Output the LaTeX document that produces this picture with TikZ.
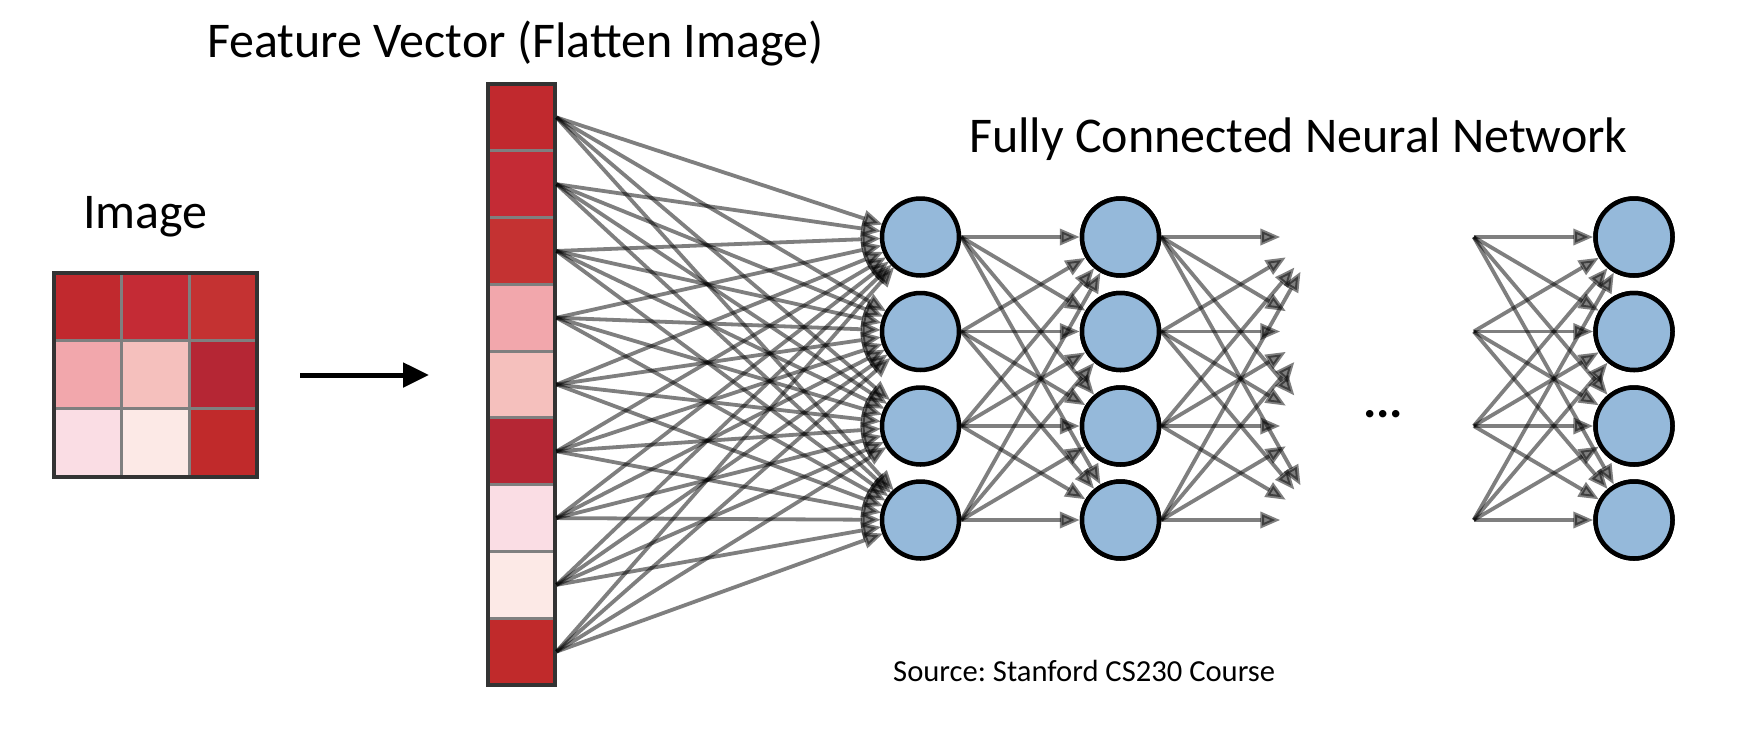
\documentclass[tikz,border=0pt]{standalone}
\usepackage{fontspec}
\setmainfont{Carlito}
\usetikzlibrary{arrows.meta}
\definecolor{r1}{HTML}{C1292E}
\definecolor{r2}{HTML}{C42B35}
\definecolor{r3}{HTML}{C43232}
\definecolor{r4}{HTML}{F2A7AC}
\definecolor{r5}{HTML}{F5C0BD}
\definecolor{r6}{HTML}{B52634}
\definecolor{r7}{HTML}{FADDE4}
\definecolor{r8}{HTML}{FCE9E6}
\definecolor{r9}{HTML}{C02A2B}
\definecolor{neuron}{HTML}{95B9DA}
\definecolor{cellline}{HTML}{7F7F7F}
\definecolor{frameline}{HTML}{333333}
\frenchspacing
\begin{document}
\begin{tikzpicture}[x=1pt,y=-1pt,
  imgcell/.style={rectangle, inner sep=0pt, minimum width=67.67pt, minimum height=67.67pt, draw=cellline, line width=3pt},
  veccell/.style={rectangle, inner sep=0pt, minimum width=67pt, minimum height=66.78pt, draw=cellline, line width=3pt},
  frame/.style={rectangle, inner sep=0pt, draw=frameline, line width=4pt},
  neur/.style={circle, inner sep=0pt, minimum size=77pt, draw=black, line width=4.5pt, fill=neuron},
  ghost/.style={circle, inner sep=0pt, minimum size=79pt, draw=none},
  conn/.style={-{Triangle[length=20pt,width=16pt]}, draw=black, opacity=0.5, line width=3.8pt},
  bigtext/.style={anchor=base west, inner sep=0pt, font=\fontsize{50}{60}\selectfont},
  smalltext/.style={anchor=base west, inner sep=0pt, font=\fontsize{30.6}{37}\selectfont},
  flatarrow/.style={-{Triangle[length=26pt,width=24pt]}, draw=black, line width=5pt}
]
\useasboundingbox[fill=white] (0,0) rectangle (1738,732);

% titles
\node[bigtext] (tfeat) at (207,57) {Feature Vector (Flatten Image)};
\node[bigtext] (timg) at (83,228) {Image};
\node[bigtext] (tnet) at (969,152) {Fully Connected Neural Network};
\node[smalltext] (tsrc) at (893,681) {Source: Stanford CS230 Course};

% image grid
\foreach \i in {0,1,2} {
  \foreach \j in {0,1,2} {
    \pgfmathtruncatemacro\k{3*\i+\j+1}
    \node[imgcell, fill=r\k] (g\k) at ({87.83+67.67*\j},{306.83+67.67*\i}) {};
  }
}
\node[frame, minimum width=203pt, minimum height=204pt] (img) at (155.5,375) {};

% flatten arrow
\coordinate (fa) at (300,375);
\coordinate (fb) at (429,375);
\draw[flatarrow] (fa) -- (fb);

% feature vector
\foreach \k in {1,...,9} {
  \node[veccell, fill=r\k] (c\k) at (521.5,{117.39+66.78*(\k-1)}) {};
}
\node[frame, minimum width=67pt, minimum height=601pt] (vec) at (521.5,384.5) {};

% virtual neuron positions (hidden layers not drawn)
\foreach \n/\y in {1/237,2/331.5,3/426,4/520} {
  \node[ghost] (v\n) at (1320,\y) {};
  \node[ghost] (w\n) at (1434,\y) {};
  \node[ghost] (a\n) at (920.5,\y) {};
}

% connections vector -> layer 1
\foreach \k in {1,...,9} {
  \foreach \n in {1,...,4} {
    \draw[conn] (c\k.east) -- (a\n);
  }
}
\foreach \n/\y in {1/237,2/331.5,3/426,4/520} {
  \node[neur] (h\n) at (920.5,\y) {};
  \node[neur] (k\n) at (1120.5,\y) {};
  \node[neur] (o\n) at (1634,\y) {};
}

% layer 1 -> layer 2, layer 2 -> next, previous -> output
\foreach \m in {1,...,4} {
  \foreach \n in {1,...,4} {
    \draw[conn] (h\m.east) -- (k\n);
    \draw[conn] (k\m.east) -- (v\n);
    \draw[conn] (w\m.east) -- (o\n);
  }
}
% neurons on top of incoming arrows
\foreach \n in {1,...,4} {
  \node[neur] at (k\n) {};
  \node[neur] at (o\n) {};
}

\node[anchor=base west, inner sep=0pt, font=\fontsize{50}{60}\selectfont\bfseries] (dots) at (1363,417) {...};
\end{tikzpicture}
\end{document}
